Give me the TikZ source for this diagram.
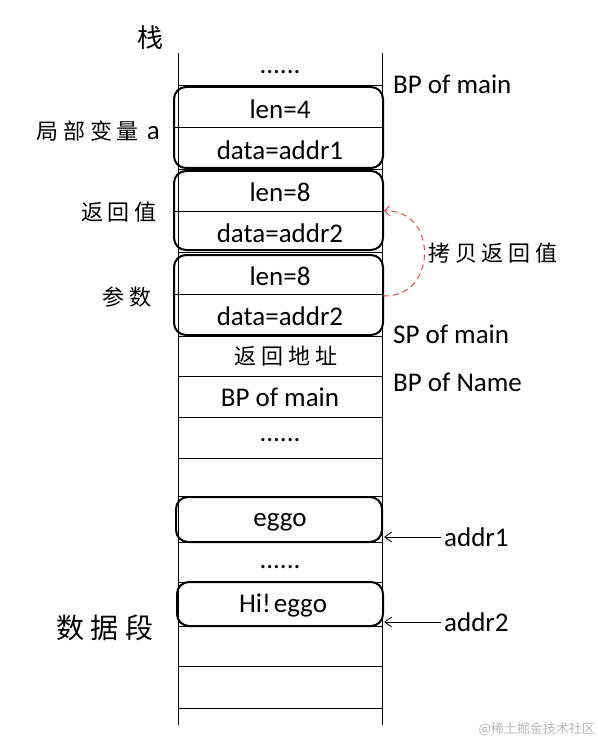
\documentclass[tikz,border=0pt]{standalone}
\usepackage{fontspec}
\setmainfont{Carlito}
\newfontfamily\cjk[LetterSpace=22]{Noto Sans CJK SC}
\newfontfamily\cjkplain{Noto Sans CJK SC}
\usetikzlibrary{arrows.meta}
\definecolor{copyred}{HTML}{E04A55}
\tikzset{
  lat/.style={font=\fontsize{27}{32}\selectfont, inner sep=0pt},
  zh/.style={font=\cjk\fontsize{22}{26}\selectfont, inner sep=0pt},
  zhbig/.style={font=\cjk\fontsize{28}{32}\selectfont, inner sep=0pt},
  slot/.style={draw, line width=2pt, rounded corners=12pt},
  cell/.style={line width=0.8pt},
  ptr/.style={line width=0.8pt, -{Straight Barb[length=7pt,width=10pt]}},
  copyarrow/.style={draw=copyred, line width=1pt, dash pattern=on 6pt off 4pt,
    -{Straight Barb[length=5pt,width=10pt]}}
}
\begin{document}
\begin{tikzpicture}[x=1pt,y=-1pt]
\useasboundingbox (0,0) rectangle (597,743);
% stack column
\draw[cell] (178,53) -- (178,725);
\draw[cell] (382,53) -- (382,725);
\foreach \yy in {85,169,252,336,376,417,458,496,542,582,626,666,708}
  \draw[cell] (178,\yy) -- (382,\yy);
% slot boxes
\draw[slot] (174,87) rectangle (383,168);
\draw[cell] (174,127) -- (383,127);
\draw[slot] (174,171) rectangle (383,250);
\draw[cell] (174,211) -- (383,211);
\draw[slot] (174,255) rectangle (383,335);
\draw[cell] (174,294) -- (383,294);
\draw[slot] (176,497) rectangle (382,542);
\draw[slot] (177,582) rectangle (383,626);
% texts in column
\node[lat] (d1) at (280,72) {......};
\node[lat] (l1) at (280,109) {len=4};
\node[lat] (a1t) at (280,150) {data=addr1};
\node[lat] (l2) at (280,192) {len=8};
\node[lat] (a2t) at (280,233) {data=addr2};
\node[lat] (l3) at (280,276) {len=8};
\node[lat] (a3t) at (280,316) {data=addr2};
\node[zh] (ret) at (286,356) {返回地址};
\node[lat] (bpm) at (280,397) {BP of main};
\node[lat] (d2) at (280,440) {......};
\node[lat] (egg) at (280,522) {eggo};
\node[lat] (d3) at (280,567) {......};
\node[lat] (hi) at (283,606) {Hi!\hspace{3pt}eggo};
% left labels
\node[font=\cjkplain\fontsize{26}{30}\selectfont, inner sep=0pt] (stk) at (150,38) {栈};
\node[zh, anchor=east] (loc) at (160,131) {局部变量\hspace{8pt}{\fontspec{Carlito}\fontsize{27}{32}\selectfont a}};
\node[zh, anchor=east] (rv) at (157,212) {返回值};
\node[zh, anchor=east] (par) at (152,297) {参数};
\node[zhbig] (dseg) at (105,628) {数据段};
% right labels
\node[lat, anchor=west] (bpmain) at (393,84) {BP of main};
\node[lat, anchor=west] (spmain) at (393,334) {SP of main};
\node[lat, anchor=west] (bpname) at (393,382) {BP of Name};
\node[zh, anchor=west] (copy) at (428,253) {拷贝返回值};
\node[lat, anchor=west, inner sep=3pt] (addr1) at (441,537) {addr1};
\node[lat, anchor=west, inner sep=3pt] (addr2) at (441,622) {addr2};
% connectors
\coordinate (p1) at (384,537);
\coordinate (p2) at (384,622);
\draw[ptr] (addr1.west) -- (p1);
\draw[ptr] (addr2.west) -- (p2);
\coordinate (cs) at (383,296);
\coordinate (ct) at (384,211);
\draw[copyarrow] (cs) .. controls (438,298) and (438,209) .. (ct);
% watermark
\node[font=\cjkplain\fontsize{13}{15}\selectfont, text=gray!55, anchor=east, inner sep=0pt] (wm) at (595,729) {@稀土掘金技术社区};
\end{tikzpicture}
\end{document}
